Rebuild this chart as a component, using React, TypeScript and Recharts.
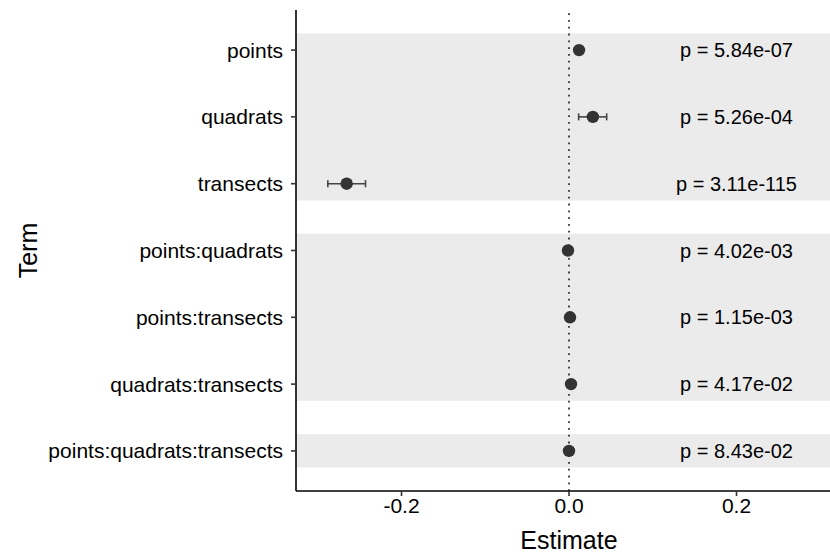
import React from "react";
import {
  ScatterChart,
  Scatter,
  XAxis,
  YAxis,
  ErrorBar,
  ReferenceArea,
  ReferenceLine,
} from "recharts";

// model terms, top to bottom
const terms = [
  "points",
  "quadrats",
  "transects",
  "points:quadrats",
  "points:transects",
  "quadrats:transects",
  "points:quadrats:transects",
];
const estimates = [0.012, 0.0285, -0.2655, -0.0012, 0.0012, 0.0024, 0.0];
const lower = [0.009, 0.0115, -0.288, -0.002, 0.0005, 0.0016, -0.0008];
const upper = [0.015, 0.045, -0.243, -0.0004, 0.0019, 0.0032, 0.0008];
const pValues = [
  "5.84e-07",
  "5.26e-04",
  "3.11e-115",
  "4.02e-03",
  "1.15e-03",
  "4.17e-02",
  "8.43e-02",
];
// shaded groups (in row units)
const bands = [
  [0.75, 3.25],
  [3.75, 6.25],
  [6.75, 7.25],
];
const xTicks = [-0.2, 0, 0.2];
const labelX = 0.2;

const FONT = "'Liberation Sans', Arial, sans-serif";

const pointData = terms.map((t, i) => ({
  term: t,
  x: estimates[i],
  y: i + 1,
  err: [estimates[i] - lower[i], upper[i] - estimates[i]],
}));

const labelData = terms.map((t, i) => ({
  x: labelX,
  y: i + 1,
  label: "p = " + pValues[i],
}));

const Dot = (props: any) => {
  const { cx, cy } = props;
  return <circle cx={cx} cy={cy} r={6.2} fill="#333333" />;
};

const PLabel = (props: any) => {
  const { cx, cy, payload } = props;
  return (
    <text
      x={cx}
      y={cy}
      textAnchor="middle"
      dominantBaseline="central"
      fontSize={20}
      fontFamily={FONT}
      fill="#000"
    >
      {payload.label}
    </text>
  );
};

export default function App() {
  return (
    <div
      style={{
        position: "absolute",
        left: 0,
        top: 0,
        width: 830,
        height: 556,
        overflow: "hidden",
        background: "#fff",
      }}
    >
      <ScatterChart
        width={842}
        height={556}
        margin={{ top: 10, right: 0, bottom: 0, left: 0 }}
      >
        {bands.map((b, i) => (
          <ReferenceArea
            key={i}
            y1={b[0]}
            y2={b[1]}
            fill="#ebebeb"
            fillOpacity={1}
            stroke="none"
          />
        ))}
        <ReferenceLine
          x={0}
          stroke="#333"
          strokeWidth={1.8}
          strokeDasharray="1.8 5"
        />
        <XAxis
          type="number"
          dataKey="x"
          domain={[-0.326, 0.326]}
          ticks={xTicks}
          allowDataOverflow
          tickFormatter={(v: number) => v.toFixed(1)}
          height={65}
          tickSize={5}
          tickMargin={2}
          stroke="#000"
          axisLine={{ stroke: "#000", strokeWidth: 1.6 }}
          tickLine={{ stroke: "#333", strokeWidth: 1.6 }}
          tick={{ fontSize: 21, fill: "#000", fontFamily: FONT }}
          label={{
            content: (p: any) => {
              const vb = p.viewBox;
              return (
                <text
                  x={vb.x + vb.width / 2}
                  y={vb.y + 58}
                  textAnchor="middle"
                  fontSize={25}
                  fontFamily={FONT}
                  fill="#000"
                >
                  Estimate
                </text>
              );
            },
          }}
        />
        <YAxis
          type="number"
          dataKey="y"
          domain={[0.4, 7.6]}
          reversed
          ticks={[1, 2, 3, 4, 5, 6, 7]}
          allowDataOverflow
          tickFormatter={(v: number) => terms[v - 1]}
          width={296}
          tickSize={5}
          tickMargin={8}
          axisLine={{ stroke: "#000", strokeWidth: 1.6 }}
          tickLine={{ stroke: "#333", strokeWidth: 1.6 }}
          tick={{ fontSize: 21, fill: "#000", fontFamily: FONT }}
          label={{
            content: (p: any) => {
              const vb = p.viewBox;
              const cx = 28;
              const cy = vb.y + vb.height / 2;
              return (
                <text
                  x={cx}
                  y={cy}
                  transform={`rotate(-90 ${cx} ${cy})`}
                  textAnchor="middle"
                  dominantBaseline="central"
                  fontSize={25}
                  fontFamily={FONT}
                  fill="#000"
                >
                  Term
                </text>
              );
            },
          }}
        />
        <Scatter data={pointData} shape={<Dot />} isAnimationActive={false}>
          <ErrorBar
            dataKey="err"
            direction="x"
            width={3.5}
            stroke="#444"
            strokeWidth={1.6}
            isAnimationActive={false}
          />
        </Scatter>
        <Scatter data={labelData} shape={<PLabel />} isAnimationActive={false} />
      </ScatterChart>
    </div>
  );
}
